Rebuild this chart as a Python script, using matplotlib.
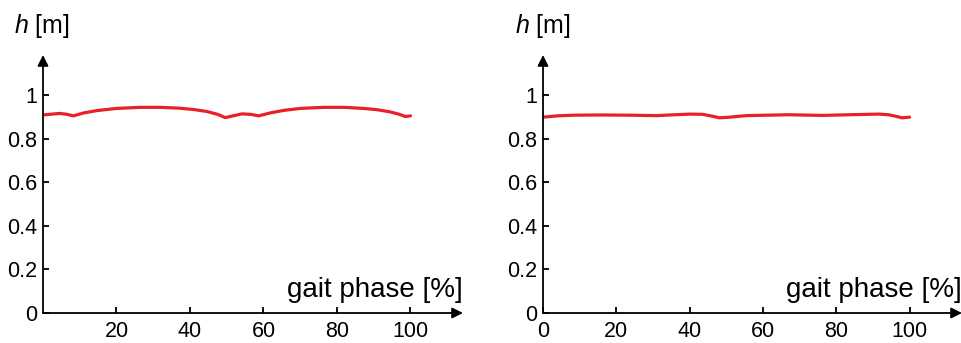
import matplotlib.pyplot as plt
import matplotlib as mpl

plt.rcParams['font.family'] = ['Liberation Sans', 'DejaVu Sans']
plt.rcParams['mathtext.fontset'] = 'custom'
plt.rcParams['mathtext.it'] = 'Liberation Sans:italic'

# gait phase [%] and body height h [m]
phase_left = [0, 2.5, 4.6, 6.5, 8.3, 11, 14.6, 20, 26.4, 32, 37.3, 41, 44.6, 47.5,
              49.6, 52, 54.1, 56.5, 58.7, 62, 65.5, 70, 76.4, 82, 87.3, 91,
              94.5, 97, 98.6, 100]
h_left = [0.908, 0.912, 0.915, 0.911, 0.904, 0.917, 0.928, 0.938, 0.943, 0.943,
          0.939, 0.933, 0.924, 0.911, 0.896, 0.905, 0.913, 0.911, 0.904, 0.918,
          0.929, 0.938, 0.943, 0.943, 0.938, 0.932, 0.922, 0.911, 0.901, 0.904]

phase_right = [0, 4, 8.2, 16, 23.6, 30.9, 36, 40, 43.5, 46, 48.1, 51, 55.4,
               61, 67.1, 76.2, 83.4, 91.6, 94.3, 96.5, 97.9, 100]
h_right = [0.898, 0.904, 0.907, 0.908, 0.907, 0.905, 0.909, 0.912, 0.911, 0.903,
           0.895, 0.898, 0.905, 0.907, 0.909, 0.906, 0.909, 0.912, 0.909, 0.901,
           0.895, 0.898]

y_ticks = [0, 0.2, 0.4, 0.6, 0.8, 1]
y_labels = ['0', '0.2', '0.4', '0.6', '0.8', '1']
x_ticks_left = [20, 40, 60, 80, 100]
x_ticks_right = [0, 20, 40, 60, 80, 100]

fig = plt.figure(figsize=(9.62, 3.43), dpi=100)
ax1 = fig.add_axes([43 / 962, 30 / 343, 420 / 962, 258 / 343])
ax2 = fig.add_axes([543 / 962, 30 / 343, 419 / 962, 258 / 343])

panels = [(ax1, phase_left, h_left, x_ticks_left),
          (ax2, phase_right, h_right, x_ticks_right)]

for ax, x, h, xt in panels:
    ax.plot(x, h, color='#e8202a', lw=2.3, solid_capstyle='round',
            solid_joinstyle='round')
    ax.set_xlim(0, 114.3)
    ax.set_ylim(0, 1.183)
    for s in ['top', 'right', 'left', 'bottom']:
        ax.spines[s].set_visible(False)
    # axis arrows
    ax.annotate('', xy=(1, 0), xytext=(0, 0), xycoords='axes fraction',
                arrowprops=dict(arrowstyle='-|>', color='black', lw=1.3,
                                mutation_scale=16, shrinkA=0, shrinkB=0))
    ax.annotate('', xy=(0, 1), xytext=(0, 0), xycoords='axes fraction',
                arrowprops=dict(arrowstyle='-|>', color='black', lw=1.3,
                                mutation_scale=16, shrinkA=0, shrinkB=0))
    ax.set_yticks(y_ticks)
    ax.set_yticklabels(y_labels)
    ax.set_xticks(xt)
    ax.set_xticklabels([str(v) for v in xt])
    ax.tick_params(direction='in', length=4, width=1.3, labelsize=15.5)
    ax.tick_params(axis='y', pad=4)
    ax.tick_params(axis='x', pad=6)
    ax.text(1.0, 0.062, 'gait phase [%]', transform=ax.transAxes,
            ha='right', va='baseline', fontsize=20)
    ax.text(-0.068, 1.085, r'$h$ [m]', transform=ax.transAxes,
            ha='left', va='baseline', fontsize=18)

fig.savefig('out.png', dpi=100)
